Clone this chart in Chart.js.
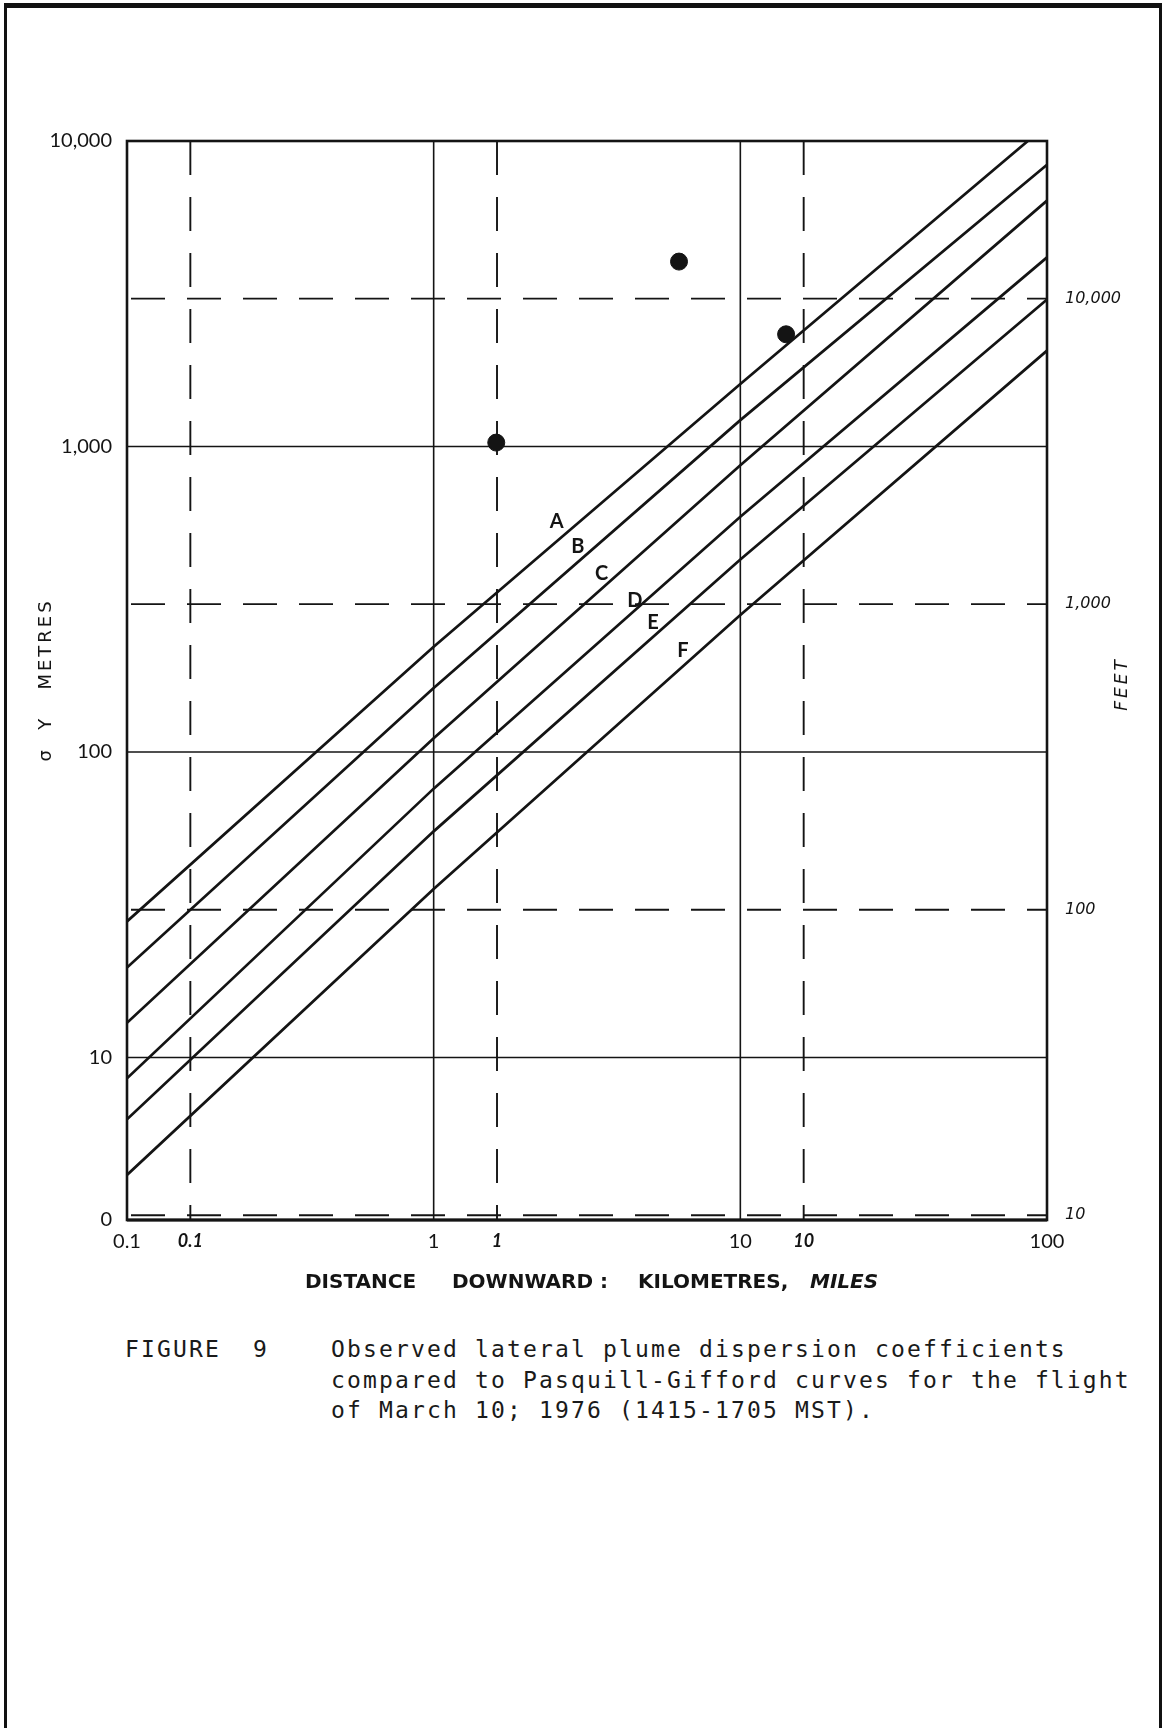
<!DOCTYPE html>
<html><head><meta charset="utf-8">
<script src="https://cdn.jsdelivr.net/npm/chart.js@4.4.1/dist/chart.umd.min.js"></script>
<style>
html,body{margin:0;padding:0;background:#fff;}
body{width:1163px;height:1728px;position:relative;overflow:hidden;}
#frame{position:absolute;left:4px;top:3px;width:1152px;height:1740px;border-left:3px solid #111;border-top:5px solid #111;border-right:3px solid #111;}
#wrap{position:absolute;left:0;top:0;width:1163px;height:1300px;}
.cap{position:absolute;font-family:"DejaVu Sans Mono",monospace;font-size:23px;letter-spacing:2.15px;color:#1a1a1a;line-height:30.5px;white-space:pre;}
</style></head>
<body>
<div id="frame"></div>
<div id="wrap"><canvas id="c" width="1163" height="1300"></canvas></div>
<div class="cap" style="left:125px;top:1334px;">FIGURE  9</div>
<div class="cap" style="left:331px;top:1334px;">Observed lateral plume dispersion coefficients
compared to Pasquill-Gifford curves for the flight
of March 10; 1976 (1415-1705 MST).</div>
<script>
// ---- data ----
const distanceKm = [0.1, 1, 10, 100];
const sigmaA = [27.9, 221, 1603, 11300];
const sigmaB = [19.7, 162, 1220, 8360];
const sigmaC = [13.0, 111, 869, 6380];
const sigmaD = [8.55, 75.9, 589, 4160];
const sigmaE = [6.28, 55.0, 427, 3030];
const sigmaF = [4.13, 35.6, 281, 2060];
const curveLabels = ['A', 'B', 'C', 'D', 'E', 'F'];
const curveLabelX = [2.52, 2.95, 3.53, 4.53, 5.19, 6.50];
const curveLabelY = [569, 472, 385, 313, 265, 215];

const obsDistanceKm = [1.60, 6.31, 14.1];
const obsSigmaM = [1030, 4030, 2330];

const kmTicks = [0.1, 0.1609, 1, 1.609, 10, 16.09, 100];
const kmTickLabels = ['0.1', '0.1', '1', '1', '10', '10', '100'];
const kmTickIsMile = [false, true, false, true, false, true, false];
const metreTicks = [2.94, 10, 100, 1000, 10000];
const metreTickLabels = ['0', '10', '100', '1,000', '10,000'];
const feetTicks = [10, 100, 1000, 10000];
const feetTickLabels = ['10', '100', '1,000', '10,000'];

const kmGrid = [1, 10];
const mileGridKm = [0.1609, 1.609, 16.09];
const metreGrid = [10, 100, 1000];
const feetGridFt = [10, 100, 1000, 10000];

const xMin = 0.1, xMax = 100, yMin = 2.94, yMax = 10000;
const FT = 0.3048;

const series = [sigmaA, sigmaB, sigmaC, sigmaD, sigmaE, sigmaF];
const INK = '#141414';

const datasets = series.map((arr, k) => ({
  label: curveLabels[k],
  data: distanceKm.map((d, i) => ({x: d, y: arr[i]})),
  showLine: true, borderColor: INK, borderWidth: 2.7, pointRadius: 0, tension: 0, fill: false
}));
datasets.push({
  label: 'observed',
  data: obsDistanceKm.map((d, i) => ({x: d, y: obsSigmaM[i]})),
  showLine: false, pointRadius: 8.5, backgroundColor: INK, borderColor: INK, borderWidth: 1
});

function seg(ctx, x1, y1, x2, y2) { ctx.beginPath(); ctx.moveTo(x1, y1); ctx.lineTo(x2, y2); ctx.stroke(); }

const overlay = {
  id: 'overlay',
  beforeDatasetsDraw(chart) {
    const {ctx, chartArea: a, scales: {x, y}} = chart;
    ctx.save();
    ctx.strokeStyle = INK;
    ctx.lineWidth = 1.6; ctx.setLineDash([]);
    kmGrid.forEach(v => { const p = x.getPixelForValue(v); seg(ctx, p, a.top, p, a.bottom); });
    metreGrid.forEach(v => { const p = y.getPixelForValue(v); seg(ctx, a.left, p, a.right, p); });
    ctx.lineWidth = 1.9; ctx.setLineDash([34, 22]);
    mileGridKm.forEach(v => { const p = x.getPixelForValue(v); seg(ctx, p, a.top, p, a.bottom); });
    feetGridFt.forEach(v => { const p = y.getPixelForValue(v * FT); seg(ctx, a.left + 4, p, a.right, p); });
    ctx.restore();
  },
  afterDatasetsDraw(chart) {
    const {ctx, chartArea: a, scales: {x, y}} = chart;
    ctx.save();
    ctx.strokeStyle = INK; ctx.setLineDash([]);
    ctx.lineWidth = 2.6;
    ctx.strokeRect(a.left, a.top, a.right - a.left, a.bottom - a.top);
    ctx.lineWidth = 3.2;
    seg(ctx, a.left, a.bottom, a.right, a.bottom);
    // curve labels
    ctx.fillStyle = INK;
    ctx.font = 'bold 20px Lato';
    ctx.textAlign = 'center'; ctx.textBaseline = 'middle';
    curveLabels.forEach((t, i) => ctx.fillText(t, x.getPixelForValue(curveLabelX[i]), y.getPixelForValue(curveLabelY[i])));
    // x-axis title
    ctx.textAlign = 'left'; ctx.textBaseline = 'middle';
    ctx.font = 'bold 20px "DejaVu Sans"';
    const ty = 1283;
    ctx.fillText('DISTANCE', 305, ty);
    ctx.fillText('DOWNWARD', 452, ty);
    ctx.fillText(':', 600, ty);
    ctx.fillText('KILOMETRES,', 638, ty);
    ctx.font = 'italic bold 20px "DejaVu Sans"';
    ctx.fillText('MILES', 810, ty);
    // left title
    ctx.save();
    ctx.translate(46, 680); ctx.rotate(-Math.PI / 2);
    ctx.font = '18px "DejaVu Sans"';
    ctx.textAlign = 'center';
    try { ctx.letterSpacing = '3px'; } catch (e) {}
    ctx.fillText('\u03c3  Y   METRES', 0, 0);
    ctx.restore();
    // right title
    ctx.save();
    ctx.translate(1123, 684); ctx.rotate(-Math.PI / 2);
    ctx.font = 'italic 17px "DejaVu Sans"';
    ctx.textAlign = 'center';
    try { ctx.letterSpacing = '3px'; } catch (e) {}
    ctx.fillText('FEET', 0, 0);
    ctx.restore();
    ctx.restore();
  }
};

new Chart(document.getElementById('c'), {
  type: 'scatter',
  data: {datasets},
  options: {
    responsive: false, animation: false, devicePixelRatio: 1,
    layout: {padding: {top: 141, left: 0, right: 0, bottom: 0}},
    plugins: {legend: {display: false}, tooltip: {enabled: false}},
    scales: {
      x: {
        type: 'logarithmic', position: 'bottom', min: xMin, max: xMax,
        afterBuildTicks: s => { s.ticks = kmTicks.map(v => ({value: v})); },
        afterFit: s => { s.height = 80; },
        grid: {display: false, drawTicks: false}, border: {display: false},
        ticks: {
          autoSkip: false, maxRotation: 0, minRotation: 0, padding: 10, color: INK,
          callback: (v, i) => kmTickLabels[i],
          font: c => kmTickIsMile[c.index] ? {family: 'Lato', size: 18, style: 'italic', weight: 'bold'} : {family: 'Lato', size: 20}
        }
      },
      y: {
        type: 'logarithmic', position: 'left', min: yMin, max: yMax,
        afterBuildTicks: s => { s.ticks = metreTicks.map(v => ({value: v})); },
        afterFit: s => { s.width = 127; },
        grid: {display: false, drawTicks: false}, border: {display: false},
        ticks: {autoSkip: false, padding: 15, color: INK, callback: (v, i) => metreTickLabels[i], font: {family: 'Lato', size: 20}}
      },
      yFeet: {
        type: 'logarithmic', position: 'right', min: yMin / FT, max: yMax / FT,
        afterBuildTicks: s => { s.ticks = feetTicks.map(v => ({value: v})); },
        afterFit: s => { s.width = 116; },
        grid: {display: false, drawTicks: false}, border: {display: false},
        ticks: {autoSkip: false, padding: 18, color: INK, callback: (v, i) => feetTickLabels[i], font: {family: 'DejaVu Sans', size: 16, style: 'italic'}}
      }
    }
  },
  plugins: [overlay]
});
</script>
</body></html>
